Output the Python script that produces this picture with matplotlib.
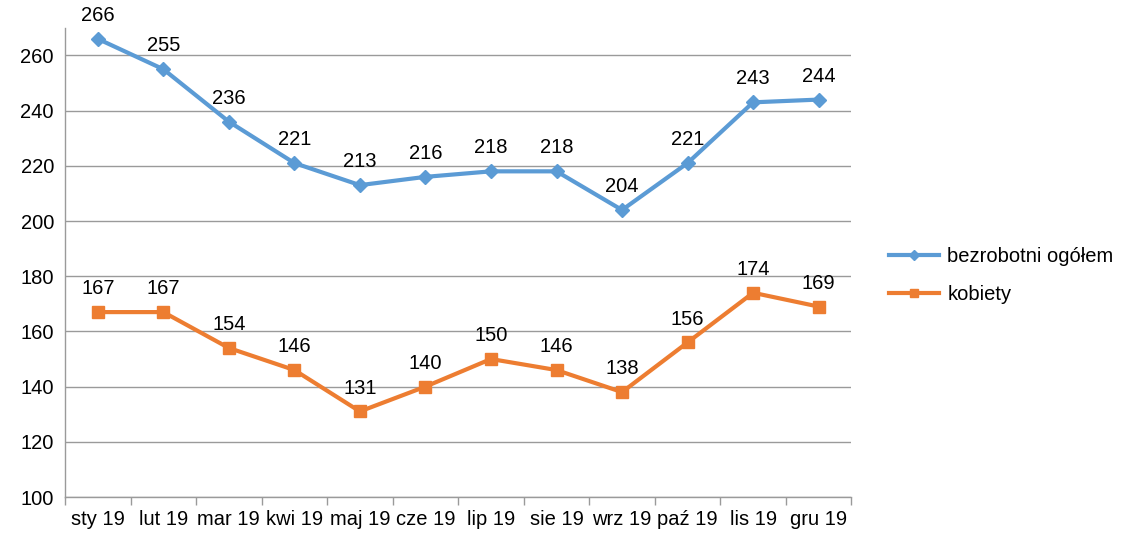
import matplotlib.pyplot as plt
import numpy as np

plt.rcParams['font.family'] = ['Liberation Sans', 'DejaVu Sans']

months = ['sty 19', 'lut 19', 'mar 19', 'kwi 19', 'maj 19', 'cze 19',
          'lip 19', 'sie 19', 'wrz 19', 'paź 19', 'lis 19', 'gru 19']
ogolem = [266, 255, 236, 221, 213, 216, 218, 218, 204, 221, 243, 244]
kobiety = [167, 167, 154, 146, 131, 140, 150, 146, 138, 156, 174, 169]

blue = '#5B9BD5'
orange = '#ED7D31'
grid_col = '#9a9a9a'
fs = 14.5

fig = plt.figure(figsize=(11.25, 5.35), dpi=100)
ax = fig.add_axes([0.0578, 0.071, 0.699, 0.877])

x = np.arange(len(months))
ax.plot(x, ogolem, color=blue, lw=3, marker='D', ms=7, label='bezrobotni ogółem')
ax.plot(x, kobiety, color=orange, lw=3, marker='s', ms=8, label='kobiety')

# data labels above points
for xi, v in zip(x, ogolem):
    ax.annotate(str(v), (xi, v), xytext=(0, 10), textcoords='offset points',
                ha='center', va='bottom', fontsize=fs)
for xi, v in zip(x, kobiety):
    ax.annotate(str(v), (xi, v), xytext=(0, 10), textcoords='offset points',
                ha='center', va='bottom', fontsize=fs)

ax.set_xlim(-0.5, len(months) - 0.5)
ax.set_ylim(100, 270)
ax.set_yticks(np.arange(100, 261, 20))
ax.yaxis.grid(True, color=grid_col, lw=1)
ax.set_axisbelow(True)

ax.set_xticks(x)
ax.set_xticklabels(months)
ax.set_xticks(np.arange(-0.5, len(months)), minor=True)
ax.tick_params(axis='x', which='major', length=0, pad=9, labelsize=fs)
ax.tick_params(axis='x', which='minor', length=6, color=grid_col, width=1)
ax.tick_params(axis='y', length=0, pad=8, labelsize=fs)

for s in ['top', 'right']:
    ax.spines[s].set_visible(False)
for s in ['left', 'bottom']:
    ax.spines[s].set_color(grid_col)
    ax.spines[s].set_linewidth(1)

leg = fig.legend(loc='center left', bbox_to_anchor=(0.79, 0.485), frameon=False,
                 fontsize=fs, handlelength=2.5, handletextpad=0.4, labelspacing=0.9,
                 borderaxespad=0, borderpad=0, markerscale=0.8)

fig.savefig('out.png', dpi=100)
